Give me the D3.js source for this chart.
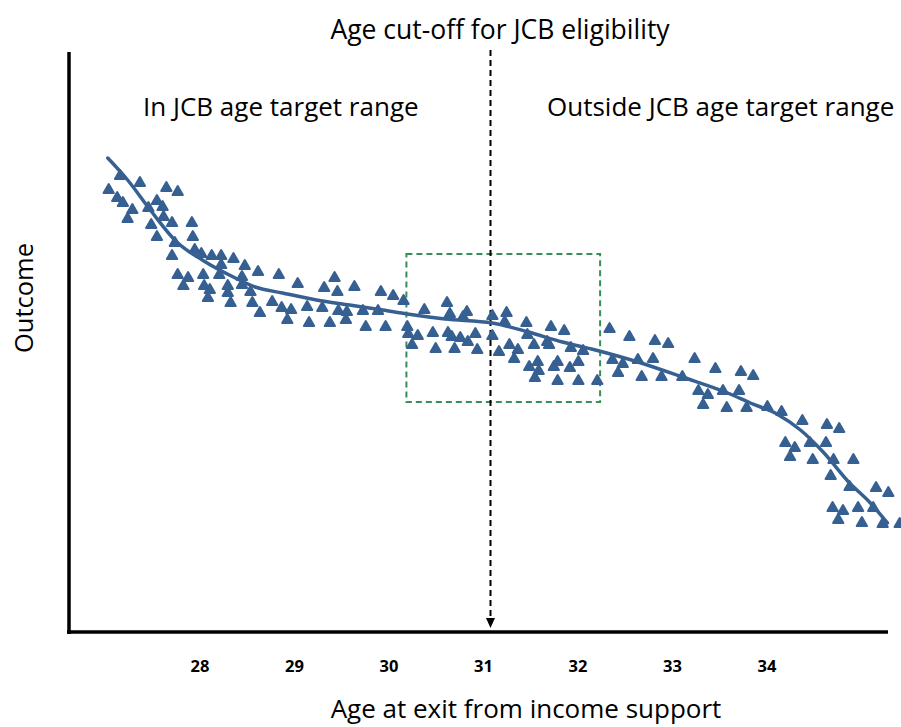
<!DOCTYPE html>
<html>
<head>
    <title></title>
    <script src="https://d3js.org/d3.v7.min.js"></script>
    <style>
        body { margin: 0; background: #fff; }
        text { font-family: "Open Sans", "Noto Sans", sans-serif; fill: #000; }
    </style>
</head>
<body>

    <svg id="chart" width="901" height="727"></svg>

    <script>

    // scatter points (age at exit, outcome)
    var ages = [27.08,27.29,26.96,27.57,27.69,27.05,27.11,27.21,27.16,27.47,27.38,27.53,27.54,27.41,27.63,27.84,27.47,27.85,27.66,27.63,27.87,27.94,28.05,28.15,28.28,28.40,28.15,27.96,27.69,27.80,27.75,27.97,28.03,28.01,28.13,28.22,28.22,28.25,28.37,28.37,28.46,28.48,
                28.54,28.76,28.96,29.35,29.24,29.38,29.56,29.84,29.97,30.08,28.56,28.69,28.79,28.89,28.85,29.06,29.08,29.22,29.30,29.39,29.48,29.47,29.65,29.68,29.81,29.89,30.12,
                30.30,30.54,30.57,30.75,30.71,31.02,31.17,31.15,31.38,31.64,31.78,32.26,30.13,30.23,30.17,30.39,30.42,30.55,30.59,30.68,30.62,30.76,30.84,30.86,31.02,31.09,31.20,31.29,31.25,31.39,31.46,31.60,31.62,31.85,31.98,31.50,31.41,31.51,31.47,31.71,31.67,31.93,31.84,31.71,31.93,32.13,32.29,
                32.47,32.74,32.88,32.40,32.35,32.56,32.72,32.60,32.81,33.03,33.16,33.38,33.65,33.78,33.20,33.30,33.25,33.46,33.63,33.50,33.71,
                33.93,34.08,34.30,34.56,34.69,34.12,34.22,34.17,34.38,34.55,34.41,34.63,34.84,34.60,34.80,35.08,35.21,34.62,34.73,34.89,35.05,34.68,34.93,35.15,35.33];
    var outcomes = [45.6,44.9,44.2,44.4,44.0,43.4,42.9,42.2,41.3,43.1,42.4,42.5,41.5,40.7,40.9,40.9,39.5,39.5,38.9,37.6,38.2,37.8,37.6,37.6,37.3,36.6,36.7,35.7,35.7,35.4,34.6,34.6,34.2,33.4,35.7,34.6,33.9,32.9,34.7,35.5,34.0,32.9,
                36.0,35.7,34.8,35.4,34.4,34.0,34.5,34.0,33.6,33.1,31.9,33.0,32.4,32.2,31.2,32.5,30.9,32.4,30.9,32.1,32.0,31.2,32.1,30.5,32.1,30.5,30.5,
                32.2,32.9,31.8,32.0,31.5,31.6,31.9,31.0,30.9,30.5,30.1,30.3,29.8,29.6,28.7,29.9,28.3,29.9,29.5,29.4,28.3,29.0,29.8,28.2,29.6,28.0,28.7,28.2,27.3,29.7,28.7,29.0,28.7,28.4,28.1,27.0,26.5,26.1,25.4,27.0,26.5,27.0,26.4,25.1,25.1,25.1,27.2,
                29.5,29.1,28.8,26.8,25.9,27.2,27.3,25.5,25.5,25.5,27.3,26.3,26.0,25.6,24.1,23.7,22.7,24.1,24.1,22.4,22.4,
                22.5,22.0,21.1,20.7,20.3,18.9,18.4,17.5,18.9,18.9,17.2,17.2,17.2,15.6,14.5,14.4,13.9,12.4,12.1,12.4,12.4,11.2,10.9,10.8,10.8];

    // fitted trend line
    var trendAge = [26.95,27.16,27.40,27.68,27.95,28.30,28.51,28.80,29.16,29.51,29.86,30.12,30.52,31.02,31.40,31.76,32.11,32.56,33.03,33.51,33.75,34.03,34.28,34.52,34.80,35.02,35.20];
    var trendOutcome = [47.4,45.2,42.2,39.0,37.2,35.4,34.5,33.9,33.2,32.7,32.2,31.8,31.3,30.9,30.0,29.0,28.2,27.0,25.5,23.9,22.9,21.8,20.2,18.0,14.9,12.9,10.9];

    var tickLabels = [28, 29, 30, 31, 32, 33, 34];
    var cutoffAge = 31;
    var boxAge = [30.11, 32.16];
    var boxOutcome = [23.0, 37.8];

    var xSc = d3.scaleLinear().domain([28, 34]).range([207, 774]);
    var ySc = d3.scaleLinear().domain([0, 58]).range([632, 52]);

    var blue = "#376092";
    var svg = d3.select("#chart");

    // axes (plain lines, no ticks)
    svg.append("line").attr("x1", 69).attr("x2", 69).attr("y1", ySc(58)).attr("y2", 634)
        .attr("stroke", "#000").attr("stroke-width", 3.5);
    svg.append("line").attr("x1", 67).attr("x2", 888).attr("y1", ySc(0)).attr("y2", ySc(0))
        .attr("stroke", "#000").attr("stroke-width", 3.5);

    svg.append("g").selectAll("text")
        .data(tickLabels).enter().append("text")
        .attr("x", d => xSc(d) - 7).attr("y", 672)
        .attr("text-anchor", "middle").attr("font-size", 16.5).attr("font-weight", "bold")
        .text(d => d);

    // comparison window around the cut-off
    svg.append("rect")
        .attr("x", xSc(boxAge[0])).attr("y", ySc(boxOutcome[1]))
        .attr("width", xSc(boxAge[1]) - xSc(boxAge[0]))
        .attr("height", ySc(boxOutcome[0]) - ySc(boxOutcome[1]))
        .attr("fill", "none").attr("stroke", "#358f57").attr("stroke-width", 2)
        .attr("stroke-dasharray", "6,4");

    // cut-off line with arrow
    var cx = xSc(cutoffAge);
    svg.append("line").attr("x1", cx).attr("x2", cx).attr("y1", 50).attr("y2", 620)
        .attr("stroke", "#000").attr("stroke-width", 2).attr("stroke-dasharray", "6,4");
    svg.append("path")
        .attr("d", "M" + (cx - 4.5) + ",618 L" + (cx + 4.5) + ",618 L" + cx + ",628 Z")
        .attr("fill", "#000");

    // points
    var pts = ages.map((a, i) => [xSc(a), ySc(outcomes[i])]);
    svg.append("g").selectAll("path")
        .data(pts).enter().append("path")
        .attr("d", d3.symbol().type(d3.symbolTriangle).size(46))
        .attr("transform", d => "translate(" + d[0] + "," + d[1] + ")")
        .attr("fill", blue).attr("stroke", blue)
        .attr("stroke-width", 2).attr("stroke-linejoin", "round");

    // trend
    var lnMkr = d3.line().curve(d3.curveMonotoneX);
    svg.append("path")
        .attr("d", lnMkr(trendAge.map((a, i) => [xSc(a), ySc(trendOutcome[i])])))
        .attr("fill", "none").attr("stroke", blue).attr("stroke-width", 3.5)
        .attr("stroke-linecap", "round");

    // labels
    svg.append("text").attr("x", 500).attr("y", 39).attr("text-anchor", "middle")
        .attr("font-size", 26.5).text("Age cut-off for JCB eligibility");
    svg.append("text").attr("x", 143).attr("y", 116)
        .attr("font-size", 26).text("In JCB age target range");
    svg.append("text").attr("x", 547).attr("y", 116)
        .attr("font-size", 26).text("Outside JCB age target range");
    svg.append("text").attr("x", 526).attr("y", 718).attr("text-anchor", "middle")
        .attr("font-size", 26).text("Age at exit from income support");
    svg.append("text").attr("transform", "translate(33,298) rotate(-90)")
        .attr("text-anchor", "middle").attr("font-size", 25.5).text("Outcome");

    </script>

</body></html>
